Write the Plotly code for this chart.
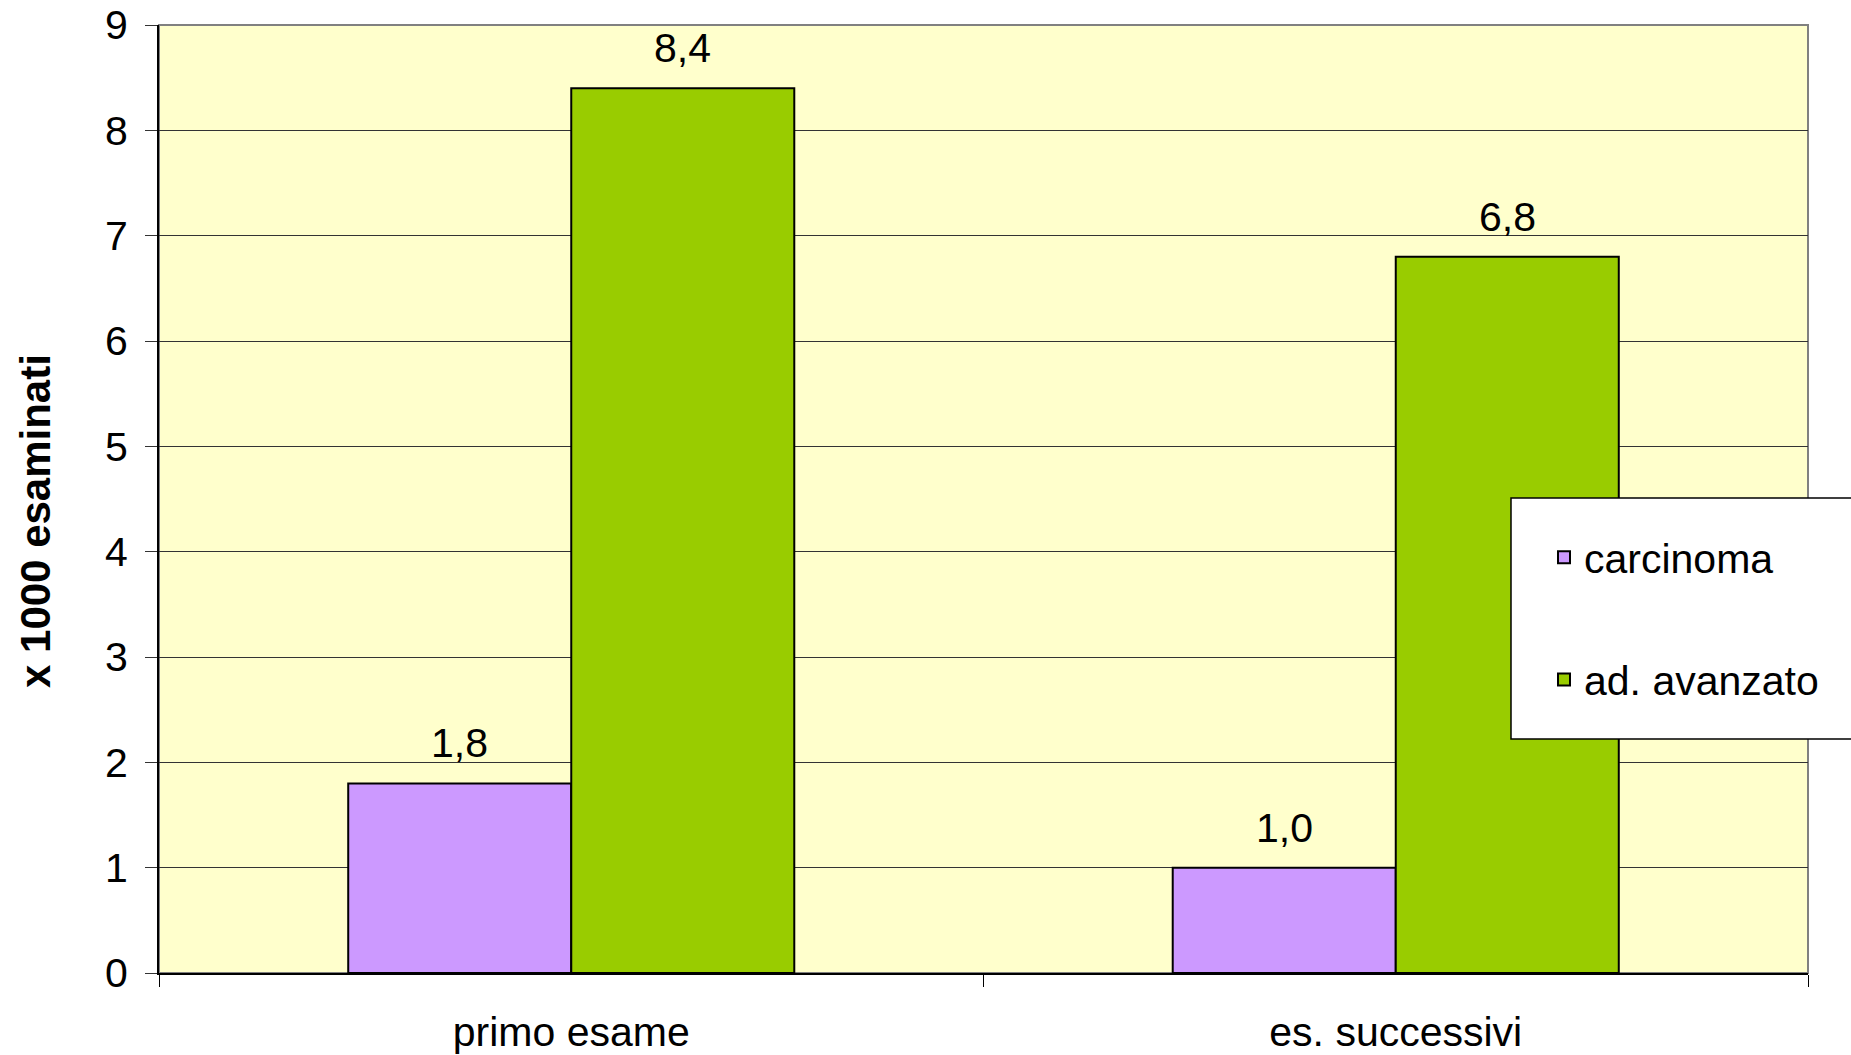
import plotly.graph_objects as go

categories = ["primo esame", "es. successivi"]
carcinoma = [1.8, 1.0]
ad_avanzato = [8.4, 6.8]
series_names = ["carcinoma", "ad. avanzato"]
y_ticks = [0, 1, 2, 3, 4, 5, 6, 7, 8, 9]
y_title = "x 1000 esaminati"

FONT = "Liberation Sans, Arial, sans-serif"
W, H = 1851, 1055
L, R, T, B = 159, 43, 25, 82
BARGAP = 0.459
PW, PH = W - L - R, H - T - B

series = [
    (series_names[0], carcinoma, "#CC99FF", "g1"),
    (series_names[1], ad_avanzato, "#99CC00", "g2"),
]

fig = go.Figure()
for name, vals, col, grp in series:
    fig.add_trace(go.Bar(
        x=categories, y=vals, name=name, legendgroup=grp,
        marker=dict(color=col, line=dict(color="#000000", width=2)),
    ))

# value labels above each bar, placed at the grouped-bar centres
n = len(series)
bw = (1 - BARGAP) / n
annotations = []
for k, (name, vals, col, grp) in enumerate(series):
    off = -(1 - BARGAP) / 2 + bw * (k + 0.5)
    for i, v in enumerate(vals):
        annotations.append(dict(
            x=i + off, y=v, xref="x", yref="y",
            text=f"{v:.1f}".replace(".", ","), showarrow=False,
            yanchor="bottom", yshift=15,
            font=dict(family=FONT, size=41, color="#000000"),
        ))

# y-axis title
annotations.append(dict(
    x=(35 - L) / PW, y=(973 - 521) / PH, xref="paper", yref="paper",
    text=f"<b>{y_title}</b>", textangle=-90, showarrow=False,
    xanchor="center", yanchor="middle",
    font=dict(family=FONT, size=42, color="#000000"),
))

fig.update_layout(
    width=W, height=H,
    margin=dict(l=L, r=R, t=T, b=B, autoexpand=False),
    paper_bgcolor="#FFFFFF", plot_bgcolor="#FFFFCC",
    separators=",.",
    barmode="group", bargap=BARGAP, bargroupgap=0,
    font=dict(family=FONT, size=41, color="#000000"),
    showlegend=True,
    legend=dict(
        x=(1544 - L) / PW, y=(973 - 524) / PH,
        xanchor="left", yanchor="top",
        bgcolor="rgba(0,0,0,0)", borderwidth=0,
        font=dict(family=FONT, size=41, color="#000000"),
        traceorder="grouped", tracegroupgap=66,
    ),
    xaxis=dict(
        showgrid=False, showline=True, linecolor="#000000", linewidth=2,
        ticks="outside", ticklen=12, tickcolor="#000000", tickwidth=1,
        tickson="boundaries", ticklabelstandoff=22,
        tickfont=dict(family=FONT, size=41),
    ),
    yaxis=dict(
        range=[0, 9], tickvals=y_ticks, showgrid=True,
        gridcolor="#333333", gridwidth=1,
        showline=True, linecolor="#000000", linewidth=2,
        ticks="outside", ticklen=12, tickcolor="#333333",
        ticklabelstandoff=9,
        tickfont=dict(family=FONT, size=41),
        zeroline=False,
    ),
    annotations=annotations,
    shapes=[
        dict(type="rect", xref="paper", yref="paper", x0=0, x1=1, y0=0, y1=1,
             line=dict(color="#808080", width=2), fillcolor="rgba(0,0,0,0)", layer="below"),
        dict(type="rect", xref="paper", yref="paper",
             x0=(1511 - L) / PW, x1=(1870 - L) / PW,
             y0=(973 - 739) / PH, y1=(973 - 498) / PH,
             line=dict(color="#000000", width=1.5), fillcolor="#FFFFFF", layer="above"),
    ],
)

fig.write_html(
    "out.html",
    config={"displayModeBar": False},
    post_script="document.body.style.margin='0px';document.body.style.overflow='hidden';",
)
